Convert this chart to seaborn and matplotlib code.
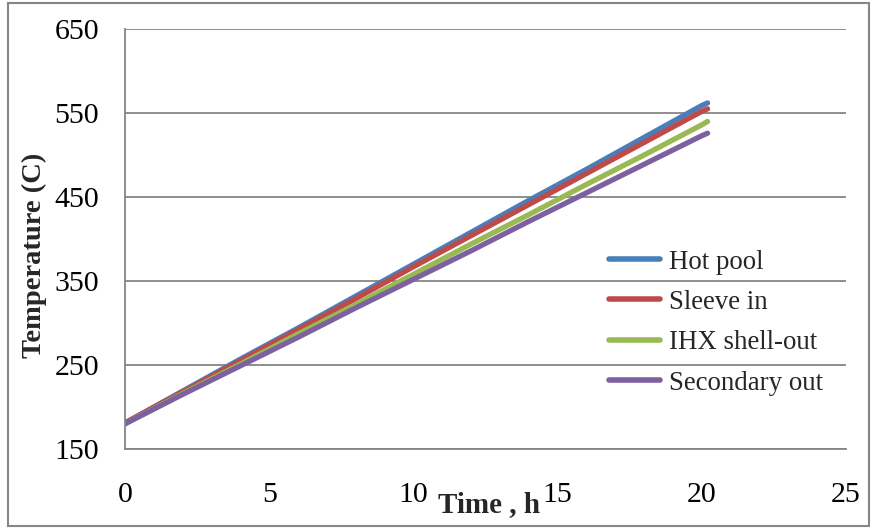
import matplotlib
matplotlib.use("Agg")
import matplotlib.pyplot as plt
import seaborn as sns
import pandas as pd
from matplotlib.patches import Rectangle

time_h = [0, 2, 4, 6, 8, 10, 12, 14, 16, 18, 20, 20.2]
hot_pool = [181, 219, 257, 294, 332, 370, 408, 446, 483, 521, 559, 562]
sleeve_in = [181, 218, 255, 292, 329, 367, 404, 441, 478, 515, 552, 555]
ihx_shell_out = [180, 216, 251, 287, 322, 358, 394, 429, 465, 500, 536, 540]
secondary_out = [180, 215, 249, 283, 318, 352, 386, 421, 455, 489, 523, 526]

series_names = ["Hot pool", "Sleeve in", "IHX shell-out", "Secondary out"]
series_vals = [hot_pool, sleeve_in, ihx_shell_out, secondary_out]
colors = ["#4A7EBB", "#BE4B48", "#98B954", "#7D60A0"]

x_ticks = [0, 5, 10, 15, 20, 25]
y_ticks = [150, 250, 350, 450, 550, 650]

rows = []
for name, vals in zip(series_names, series_vals):
    for t, v in zip(time_h, vals):
        rows.append({"Time": t, "Temp": v, "Series": name})
df = pd.DataFrame(rows)

sns.set_style("white")
plt.rcParams["font.family"] = ["Liberation Serif", "DejaVu Serif"]

fig = plt.figure(figsize=(8.74, 5.28), dpi=100)
ax = fig.add_axes([0.143, 0.1496, 0.825, 0.7954])

sns.lineplot(data=df, x="Time", y="Temp", hue="Series", hue_order=series_names,
             palette=dict(zip(series_names, colors)), linewidth=3.8, ax=ax,
             legend=True)

ax.set_xlim(0, 25)
ax.set_ylim(150, 650)
ax.set_xticks(x_ticks)
ax.set_yticks(y_ticks)
ax.tick_params(axis="both", labelsize=21.5, colors="#000000", direction="out")
ax.tick_params(axis="y", length=6.5, width=1.2, color="#868686", pad=12)
ax.tick_params(axis="x", length=6, width=1.2, color="#868686", pad=18)
ax.yaxis.grid(True, color="#868686", linewidth=1.3)
ax.xaxis.grid(False)
ax.set_axisbelow(True)
for s in ["top", "right"]:
    ax.spines[s].set_visible(False)
for s in ["left", "bottom"]:
    ax.spines[s].set_color("#868686")
    ax.spines[s].set_linewidth(1.3)

ax.set_xlabel("Time , h", fontsize=21, fontweight="bold")
ax.xaxis.set_label_coords(0.505, -0.10)
ax.set_ylabel("Temperature (C)", fontsize=20.5, fontweight="bold")
ax.yaxis.set_label_coords(-0.108, 0.46)

leg = ax.legend(loc="upper left", bbox_to_anchor=(0.653, 0.507), frameon=False,
                fontsize=19.4, handlelength=1.9, handletextpad=0.3,
                labelspacing=0.57, borderpad=0)
for line in leg.get_lines():
    line.set_linewidth(4)

fig.patches.append(Rectangle((0.009, 0.004), 0.985, 0.99, transform=fig.transFigure,
                             fill=False, edgecolor="#868686", linewidth=1.5))

fig.savefig("out.png", dpi=100)
